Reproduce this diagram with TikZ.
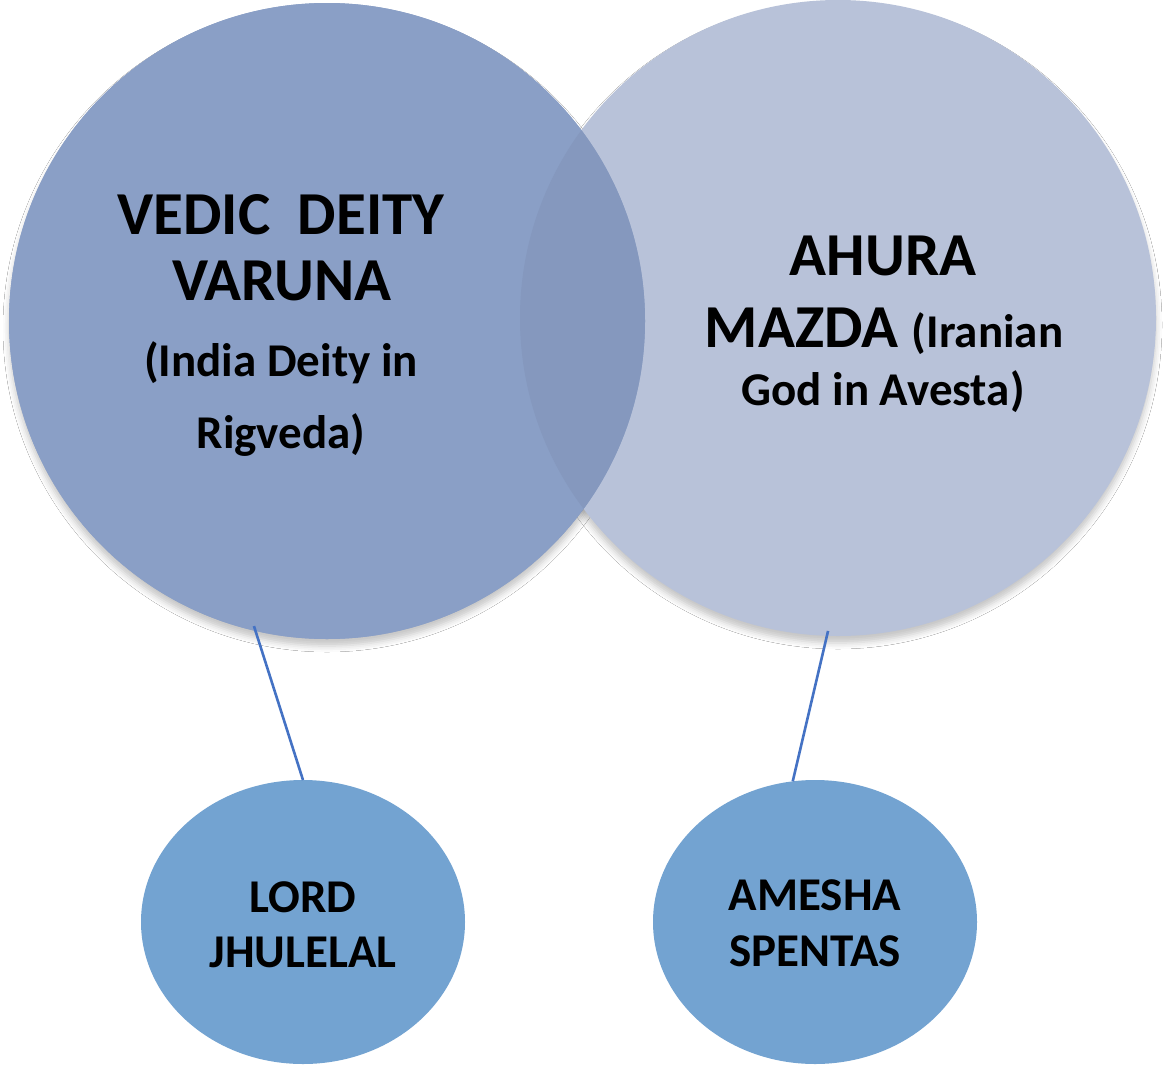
\documentclass[tikz,border=0pt]{standalone}
\usepackage{fontspec}
\setmainfont{Carlito}
\usetikzlibrary{shapes.geometric,shadows.blur}
\definecolor{bigL}{HTML}{8A9FC6}
\definecolor{bigR}{HTML}{B8C2D9}
\definecolor{overlapc}{HTML}{8598BE}
\definecolor{smallc}{HTML}{73A3D1}
\definecolor{linkc}{HTML}{4472C4}
\begin{document}
\begin{tikzpicture}[x=1pt,y=-1pt,
  bigcircle/.style={circle, minimum size=636pt, inner sep=0pt, outer sep=0pt,
    blur shadow={shadow xshift=0pt, shadow yshift=-7pt, shadow blur radius=6pt, shadow opacity=22}},
  smallell/.style={ellipse, minimum width=324pt, minimum height=284pt, inner sep=0pt, outer sep=0pt, fill=smallc},
  bigtxt/.style={anchor=base, inner sep=0pt, font=\bfseries\fontsize{61}{72}\selectfont},
  midtxt/.style={anchor=base, inner sep=0pt, font=\bfseries\fontsize{47}{56}\selectfont},
  smalltxt/.style={anchor=base, inner sep=0pt, font=\bfseries\fontsize{47}{56}\selectfont},
  linkline/.style={draw=linkc, line width=2.6pt}]
\useasboundingbox (0,0) rectangle (1167,1068);
\fill[white] (0,0) rectangle (1167,1068);
% big circles
\node[bigcircle, fill=bigL] (L) at (327,321) {};
\node[bigcircle, fill=bigR] (R) at (838,318) {};
\fill[bigL] (327,321) circle [radius=318pt];
\begin{scope}
  \clip (327,321) circle [radius=318pt];
  \fill[overlapc] (838,318) circle [radius=318pt];
\end{scope}
% small circles
\node[smallell] (Ls) at (303,922) {};
\node[smallell] (Rs) at (815,922) {};
% connectors
\draw[linkline, shorten <=-5pt] (L.-103) -- (Ls.90);
\draw[linkline, shorten <=-5pt] (R.-92) -- (Rs.99);
% texts
\node[bigtxt] (t1) at (281,234) {VEDIC\ \ DEITY};
\node[bigtxt] (t2) at (282,300) {VARUNA};
\node[midtxt] (t3) at (281,376) {(India Deity in};
\node[midtxt] (t4) at (281,448) {Rigveda)};
\node[bigtxt] (t5) at (883,275) {AHURA};
\node[bigtxt] (t6) at (884,347) {MAZDA {\fontsize{47}{56}\selectfont (Iranian}};
\node[midtxt] (t7) at (883,405) {God in Avesta)};
\node[smalltxt] (t8) at (303,912) {LORD};
\node[smalltxt] (t9) at (303,967) {JHULELAL};
\node[smalltxt] (t10) at (815,910) {AMESHA};
\node[smalltxt] (t11) at (815,966) {SPENTAS};
\end{tikzpicture}
\end{document}
